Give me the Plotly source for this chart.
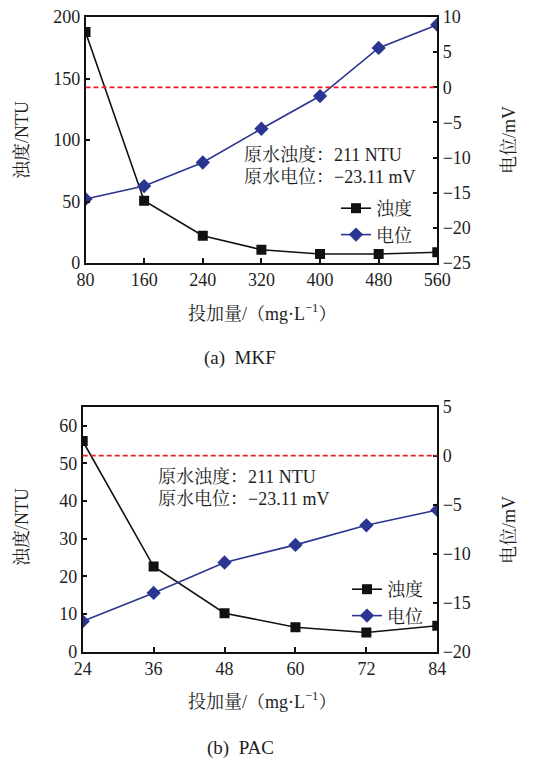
import plotly.graph_objects as go

# Data (a) MKF
dose_a = [80, 160, 240, 320, 400, 480, 560]
turb_a = [187.8, 50.6, 22.2, 10.8, 7.3, 7.3, 8.7]
zeta_a = [-15.9, -14.05, -10.7, -5.9, -1.25, 5.6, 8.9]

# Data (b) PAC
dose_b = [24, 36, 48, 60, 72, 84]
turb_b = [55.9, 22.6, 10.2, 6.5, 5.1, 6.9]
zeta_b = [-16.9, -14.0, -10.9, -9.1, -7.1, -5.55]

W, H = 541, 761
FONT = "Liberation Serif, Times New Roman, Noto Serif CJK SC, Noto Sans CJK SC"
TXT = "#1e1e1e"
BLUE = "#2b3592"
FS = 18

def px(x):
    return x / W

def py(y):
    return 1 - y / H

fig = go.Figure()

fig.add_trace(go.Scatter(x=dose_a, y=turb_a, name="浊度", mode="lines+markers",
                         line=dict(color="#111111", width=1.6),
                         marker=dict(symbol="square", size=10, color="#111111"),
                         xaxis="x", yaxis="y", legend="legend"))
fig.add_trace(go.Scatter(x=dose_a, y=zeta_a, name="电位", mode="lines+markers",
                         line=dict(color=BLUE, width=1.6),
                         marker=dict(symbol="diamond", size=11, color=BLUE),
                         xaxis="x", yaxis="y2", legend="legend"))
fig.add_trace(go.Scatter(x=dose_b, y=turb_b, name="浊度", mode="lines+markers",
                         line=dict(color="#111111", width=1.6),
                         marker=dict(symbol="square", size=10, color="#111111"),
                         xaxis="x2", yaxis="y3", legend="legend2"))
fig.add_trace(go.Scatter(x=dose_b, y=zeta_b, name="电位", mode="lines+markers",
                         line=dict(color=BLUE, width=1.6),
                         marker=dict(symbol="diamond", size=11, color=BLUE),
                         xaxis="x2", yaxis="y4", legend="legend2"))

axis_common = dict(showgrid=False, zeroline=False, showline=True, linecolor="#111111",
                   linewidth=1.5, ticks="inside", ticklen=5, tickwidth=1.5,
                   tickcolor="#111111", tickfont=dict(family=FONT, size=FS, color=TXT),
                   automargin=False)

dom_xa = [px(85.5), px(437.3)]
dom_ya = [py(263), py(17)]
dom_xb = [px(82.7), px(437.3)]
dom_yb = [py(651.7), py(406.7)]

fig.update_layout(
    width=W, height=H, margin=dict(l=0, r=0, t=0, b=0),
    paper_bgcolor="white", plot_bgcolor="white",
    font=dict(family=FONT, size=FS, color=TXT),
    xaxis=dict(axis_common, domain=dom_xa, anchor="y", range=[80, 560],
               tickvals=dose_a, mirror=True),
    yaxis=dict(axis_common, domain=dom_ya, anchor="x", range=[0, 200],
               tickvals=[0, 50, 100, 150, 200], mirror=True),
    yaxis2=dict(axis_common, overlaying="y", side="right", anchor="x", range=[-25, 10],
                tickvals=[-25, -20, -15, -10, -5, 0, 5, 10],
                ticktext=["−25", "−20", "−15", "−10", "−5", "0", "5", "10"]),
    xaxis2=dict(axis_common, domain=dom_xb, anchor="y3", range=[24, 84],
                tickvals=dose_b, mirror=True),
    yaxis3=dict(axis_common, domain=dom_yb, anchor="x2", range=[0, 65],
                tickvals=[0, 10, 20, 30, 40, 50, 60], mirror=True),
    yaxis4=dict(axis_common, overlaying="y3", side="right", anchor="x2", range=[-20, 5],
                tickvals=[-20, -15, -10, -5, 0, 5],
                ticktext=["−20", "−15", "−10", "−5", "0", "5"]),
    legend=dict(x=px(336), y=py(190), xanchor="left", yanchor="top",
                bgcolor="rgba(0,0,0,0)", font=dict(family=FONT, size=FS, color=TXT),
                tracegroupgap=0, itemwidth=30),
    legend2=dict(x=px(347), y=py(571), xanchor="left", yanchor="top",
                 bgcolor="rgba(0,0,0,0)", font=dict(family=FONT, size=FS, color=TXT),
                 tracegroupgap=0, itemwidth=30),
    showlegend=True,
)

# zero reference lines
fig.add_shape(type="line", xref="x domain", yref="y2", x0=0, x1=1, y0=0, y1=0,
              line=dict(color="#ee1c25", width=1.8, dash="5px,3px"))
fig.add_shape(type="line", xref="x2 domain", yref="y4", x0=0, x1=1, y0=0, y1=0,
              line=dict(color="#ee1c25", width=1.8, dash="5px,3px"))

def ann(text, x, y, angle=0, xanchor="center", size=FS):
    fig.add_annotation(text=text, x=px(x), y=py(y), xref="paper", yref="paper",
                       showarrow=False, textangle=angle, xanchor=xanchor,
                       yanchor="middle", font=dict(family=FONT, size=size, color=TXT))

# axis titles
ann("浊度/NTU", 22, 140, angle=-90)
ann("电位/mV", 509, 140, angle=-90)
ann("投加量/（mg·L<sup>−1</sup>）", 262, 312)
ann("浊度/NTU", 22, 527, angle=-90)
ann("电位/mV", 509, 530, angle=-90)
ann("投加量/（mg·L<sup>−1</sup>）", 262, 700)

# info text
ann("原水浊度：211 NTU", 242, 155, xanchor="left")
ann("原水电位：−23.11 mV", 242, 177, xanchor="left")
ann("原水浊度：211 NTU", 156, 477, xanchor="left")
ann("原水电位：−23.11 mV", 156, 499, xanchor="left")

# captions
ann("(a)  MKF", 240, 358, size=19)
ann("(b)  PAC", 240, 748, size=19)

fig.write_html("out.html", config={"displayModeBar": False})

with open("out.html", "r", encoding="utf-8") as f:
    html = f.read()
html = html.replace("<head>", "<head><style>html,body{margin:0;padding:0;overflow:hidden;}</style>", 1)
with open("out.html", "w", encoding="utf-8") as f:
    f.write(html)
